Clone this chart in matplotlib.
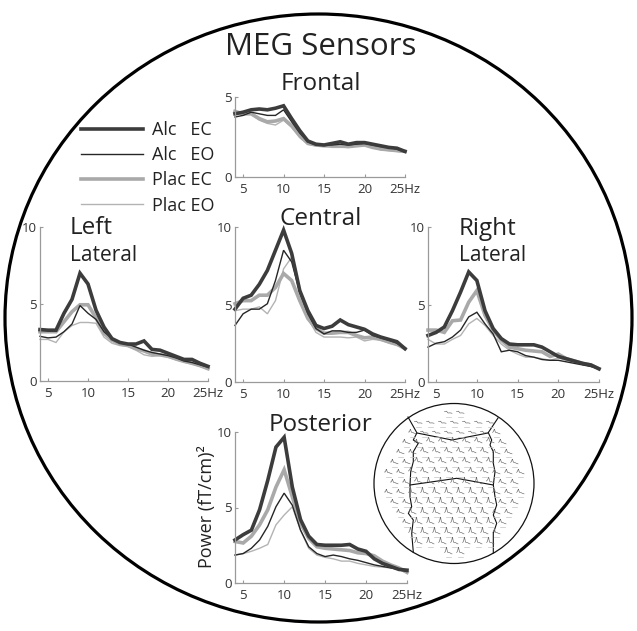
import numpy as np
import matplotlib
matplotlib.use('Agg')
import matplotlib.pyplot as plt
from matplotlib.patches import Ellipse, Circle
from matplotlib.lines import Line2D

plt.rcParams['font.family'] = ['Open Sans', 'DejaVu Sans']

# ---------------- data ----------------
freqs = list(range(4, 26))
conditions = ['Alc   EC', 'Alc   EO', 'Plac EC', 'Plac EO']
x_ticks = [5, 10, 15, 20, 25]
x_ticklabels = ['5', '10', '15', '20', '25Hz']

frontal_alc_ec = [3.95, 4.05, 4.2, 4.25, 4.2, 4.3, 4.45, 3.65, 2.9, 2.25, 2.05, 2.0, 2.1, 2.2, 2.05, 2.15, 2.15, 2.05, 1.95, 1.85, 1.8, 1.6]
frontal_alc_eo = [3.75, 3.85, 4.05, 3.95, 3.85, 3.85, 4.2, 3.45, 2.75, 2.2, 2.0, 2.0, 2.0, 2.05, 2.0, 2.05, 2.1, 2.0, 1.9, 1.85, 1.75, 1.55]
frontal_plac_ec = [4.1, 3.95, 3.95, 3.65, 3.45, 3.5, 3.65, 3.2, 2.6, 2.1, 2.0, 1.95, 1.95, 1.95, 1.9, 1.95, 2.0, 1.85, 1.75, 1.7, 1.65, 1.6]
frontal_plac_eo = [4.1, 4.05, 3.9, 3.55, 3.35, 3.25, 3.55, 3.1, 2.45, 2.05, 1.95, 1.95, 1.85, 1.85, 1.85, 1.95, 1.95, 1.85, 1.7, 1.65, 1.6, 1.55]

left_alc_ec = [3.34, 3.3, 3.3, 4.4, 5.3, 7.0, 6.3, 4.6, 3.5, 2.75, 2.5, 2.4, 2.4, 2.6, 2.05, 2.0, 1.8, 1.6, 1.4, 1.4, 1.15, 0.95]
left_alc_eo = [2.9, 2.8, 2.85, 3.2, 3.7, 4.9, 4.4, 4.0, 3.2, 2.75, 2.5, 2.4, 2.2, 2.0, 1.85, 1.75, 1.65, 1.5, 1.3, 1.2, 1.05, 0.9]
left_plac_ec = [3.2, 3.2, 3.2, 3.85, 4.5, 4.95, 4.95, 4.1, 3.1, 2.65, 2.4, 2.3, 2.1, 1.95, 1.75, 1.7, 1.6, 1.45, 1.3, 1.15, 1.0, 0.8]
left_plac_eo = [2.7, 2.7, 2.5, 3.2, 3.6, 3.8, 3.8, 3.75, 2.85, 2.45, 2.3, 2.25, 2.0, 1.7, 1.6, 1.65, 1.55, 1.35, 1.2, 1.1, 0.95, 0.8]

central_alc_ec = [4.7, 5.4, 5.6, 6.3, 7.2, 8.5, 9.8, 8.3, 5.9, 4.6, 3.65, 3.45, 3.6, 4.0, 3.7, 3.55, 3.4, 3.1, 2.9, 2.75, 2.6, 2.15]
central_alc_eo = [3.65, 4.4, 4.7, 4.7, 5.05, 6.55, 8.5, 7.75, 5.8, 4.4, 3.45, 3.1, 3.3, 3.3, 3.2, 3.2, 3.35, 3.0, 2.85, 2.7, 2.5, 2.15]
central_plac_ec = [5.05, 5.25, 5.25, 5.6, 5.6, 6.1, 7.0, 6.55, 5.25, 4.1, 3.45, 3.15, 3.15, 3.2, 3.2, 3.0, 2.85, 2.9, 2.75, 2.6, 2.45, 2.15]
central_plac_eo = [4.6, 4.7, 4.7, 4.85, 4.4, 5.25, 7.3, 8.05, 5.7, 4.1, 3.2, 2.9, 2.9, 2.9, 2.85, 2.9, 2.65, 2.75, 2.7, 2.5, 2.35, 2.15]

right_alc_ec = [3.0, 3.2, 3.55, 4.6, 5.8, 7.1, 6.55, 4.6, 3.45, 2.8, 2.45, 2.4, 2.4, 2.4, 2.25, 1.95, 1.65, 1.5, 1.35, 1.2, 1.1, 0.85]
right_alc_eo = [2.25, 2.5, 2.6, 2.9, 3.35, 4.2, 4.5, 3.75, 3.1, 1.95, 2.05, 1.95, 1.7, 1.6, 1.45, 1.4, 1.4, 1.3, 1.2, 1.1, 1.0, 0.85]
right_plac_ec = [3.35, 3.35, 3.2, 3.95, 4.0, 5.15, 5.9, 4.3, 3.35, 2.7, 2.25, 2.15, 2.05, 2.0, 1.95, 1.65, 1.8, 1.5, 1.35, 1.2, 1.1, 0.85]
right_plac_eo = [2.75, 2.45, 2.45, 2.75, 3.0, 3.75, 4.1, 3.65, 3.0, 2.45, 2.05, 1.8, 1.6, 1.6, 1.5, 1.4, 1.55, 1.4, 1.3, 1.15, 1.0, 0.85]

posterior_alc_ec = [2.85, 3.2, 3.5, 4.85, 6.8, 9.0, 9.65, 6.35, 4.2, 3.1, 2.55, 2.5, 2.5, 2.5, 2.55, 2.25, 2.1, 1.6, 1.3, 1.1, 0.9, 0.85]
posterior_alc_eo = [1.85, 1.95, 2.3, 2.85, 3.75, 5.05, 5.95, 5.15, 3.5, 2.4, 1.95, 1.75, 1.85, 1.75, 1.6, 1.5, 1.35, 1.2, 1.1, 1.0, 0.9, 0.75]
posterior_plac_ec = [2.75, 2.65, 3.1, 3.85, 4.85, 6.35, 7.5, 5.7, 3.95, 2.95, 2.4, 2.3, 2.25, 2.2, 2.15, 2.0, 1.95, 1.8, 1.45, 1.2, 1.0, 0.7]
posterior_plac_eo = [1.85, 1.95, 2.1, 2.3, 2.55, 3.85, 4.5, 5.05, 3.5, 2.3, 1.85, 1.7, 1.6, 1.45, 1.45, 1.3, 1.2, 1.1, 1.05, 1.0, 0.9, 0.7]

# ---------------- styles ----------------
W, H = 637, 631
styles = {
    'Alc   EC': dict(color='#3c3c3c', lw=2.6),
    'Alc   EO': dict(color='#262626', lw=1.0),
    'Plac EC': dict(color='#a9a9a9', lw=2.6),
    'Plac EO': dict(color='#b3b3b3', lw=1.0),
}
draw_order = ['Plac EO', 'Plac EC', 'Alc   EO', 'Alc   EC']
spine_col = '#9a9a9a'
txt_col = '#222222'
tick_col = '#333333'

fig = plt.figure(figsize=(W / 100, H / 100), dpi=100)
fig.patch.set_facecolor('white')

# overlay in pixel coordinates
ov = fig.add_axes([0, 0, 1, 1])
ov.set_xlim(0, W)
ov.set_ylim(H, 0)
ov.axis('off')
ov.patch.set_alpha(0)


def panel(x0, x1, ytop, ybot, ymax, yticks, series):
    ax = fig.add_axes([x0 / W, 1 - ybot / H, (x1 - x0) / W, (ybot - ytop) / H])
    ax.patch.set_alpha(0)
    for key in draw_order:
        ax.plot(freqs, series[key], clip_on=False, solid_joinstyle='miter',
                label=key, **styles[key])
    ax.set_xlim(4, 25)
    ax.set_ylim(0, ymax)
    for s in ['top', 'right']:
        ax.spines[s].set_visible(False)
    for s in ['left', 'bottom']:
        ax.spines[s].set_color(spine_col)
        ax.spines[s].set_linewidth(0.9)
    ax.set_xticks(x_ticks)
    ax.set_xticklabels(x_ticklabels)
    ax.set_yticks(yticks)
    ax.set_yticklabels([str(v) for v in yticks])
    ax.tick_params(direction='in', length=2.5, width=0.8, color=spine_col,
                   labelsize=9.5, labelcolor=tick_col)
    ax.tick_params(axis='x', pad=4.5)
    ax.tick_params(axis='y', pad=2)
    return ax


ax_f = panel(235, 405, 97, 177, 5, [0, 5],
             {'Alc   EC': frontal_alc_ec, 'Alc   EO': frontal_alc_eo,
              'Plac EC': frontal_plac_ec, 'Plac EO': frontal_plac_eo})
ax_l = panel(40, 208, 227, 381, 10, [0, 5, 10],
             {'Alc   EC': left_alc_ec, 'Alc   EO': left_alc_eo,
              'Plac EC': left_plac_ec, 'Plac EO': left_plac_eo})
ax_c = panel(235, 405, 227, 382, 10, [0, 5, 10],
             {'Alc   EC': central_alc_ec, 'Alc   EO': central_alc_eo,
              'Plac EC': central_plac_ec, 'Plac EO': central_plac_eo})
ax_r = panel(428, 599, 227, 382, 10, [0, 5, 10],
             {'Alc   EC': right_alc_ec, 'Alc   EO': right_alc_eo,
              'Plac EC': right_plac_ec, 'Plac EO': right_plac_eo})
ax_p = panel(235, 407, 432, 583, 10, [0, 5, 10],
             {'Alc   EC': posterior_alc_ec, 'Alc   EO': posterior_alc_eo,
              'Plac EC': posterior_plac_ec, 'Plac EO': posterior_plac_eo})

# legend
handles = [Line2D([], [], **styles[c]) for c in conditions]
fig.legend(handles, conditions, loc='upper left',
           bbox_to_anchor=(81 / W, 1 - 121 / H), frameon=False,
           fontsize=13, handlelength=3.45, handletextpad=0.5,
           labelspacing=0.4, borderpad=0, borderaxespad=0,
           labelcolor=txt_col)

# big outer ellipse
ov.add_patch(Ellipse((318.5, 318), 627, 608, fill=False, lw=2.3, ec='black', zorder=1))

# titles
ov.text(320.5, 55, 'MEG Sensors', fontsize=22.5, ha='center', va='baseline', color=txt_col)
ov.text(321, 90.5, 'Frontal', fontsize=17.5, ha='center', va='baseline', color=txt_col)
ov.text(321, 225, 'Central', fontsize=17.5, ha='center', va='baseline', color=txt_col)
ov.text(320.5, 431, 'Posterior', fontsize=17.5, ha='center', va='baseline', color=txt_col)
ov.text(70, 234, 'Left', fontsize=17.5, ha='left', va='baseline', color=txt_col)
ov.text(70, 261, 'Lateral', fontsize=15, ha='left', va='baseline', color=txt_col)
ov.text(459, 235, 'Right', fontsize=17.5, ha='left', va='baseline', color=txt_col)
ov.text(459, 261, 'Lateral', fontsize=15, ha='left', va='baseline', color=txt_col)
ov.text(207, 507, 'Power (fT/cm)\u00b2', fontsize=13, rotation=90,
        ha='center', va='center', color=txt_col)

# ---------------- sensor layout inset ----------------
cx, cy, rad = 454, 483.5, 80
ov.add_patch(Circle((cx, cy), rad, fill=False, lw=0.9, ec='#111111', zorder=2))

front_bx = [408, 417, 452, 488, 498]
front_by = [417, 433, 440, 433, 418]
left_bx = [416.7, 413.3, 418.3, 413.3, 413.3, 410.7, 410, 410, 411.7, 408.3, 413.3, 411.7, 413.3]
left_by = [433.3, 440, 443.3, 451.7, 461.7, 471.7, 485, 496.7, 506.7, 513.3, 520, 533.3, 552]
right_bx = [488.3, 491.7, 490, 493.3, 493.3, 495, 493.3, 495, 496.7, 493.3, 496.7, 493.3, 493.3]
right_by = [432.7, 440, 445, 451.7, 463.3, 471.7, 485, 496.7, 505, 515, 523.3, 533.3, 553]
mid_bx = [410, 456.7, 493.3]
mid_by = [485, 478.3, 485]
for bx, by in [(front_bx, front_by), (left_bx, left_by), (right_bx, right_by), (mid_bx, mid_by)]:
    ov.plot(bx, by, color='#111111', lw=0.8, zorder=3)

region_series = {'front': frontal_alc_ec, 'left': left_alc_ec, 'right': right_alc_ec,
                 'central': central_alc_ec, 'post': posterior_alc_ec}
fr = np.asarray(freqs, float)
gx_t = (fr - fr[0]) / (fr[-1] - fr[0]) * 7.5
for j in range(-8, 9):
    yy = cy + j * 10.0
    off = 6 if j % 2 else 0
    for k in range(-8, 9):
        xx = cx + k * 12 + off
        if (xx - cx) ** 2 + (yy - cy) ** 2 > (rad - 9) ** 2:
            continue
        fb = np.interp(xx, front_bx, front_by)
        if yy < fb:
            reg = 'front'
        elif xx < np.interp(yy, left_by, left_bx):
            reg = 'left'
        elif xx > np.interp(yy, right_by, right_bx):
            reg = 'right'
        elif yy < np.interp(xx, mid_bx, mid_by):
            reg = 'central'
        else:
            reg = 'post'
        s = np.asarray(region_series[reg], float)
        ov.plot(xx - 3.5 + gx_t, yy + 1 - s * 0.75, color='#666666', lw=0.45, zorder=3)
        ov.plot([xx - 2.5, xx + 2.5], [yy + 3, yy + 3], color='#c4c4c4', lw=0.5, zorder=3)

fig.savefig('out.png', dpi=100, facecolor='white')
